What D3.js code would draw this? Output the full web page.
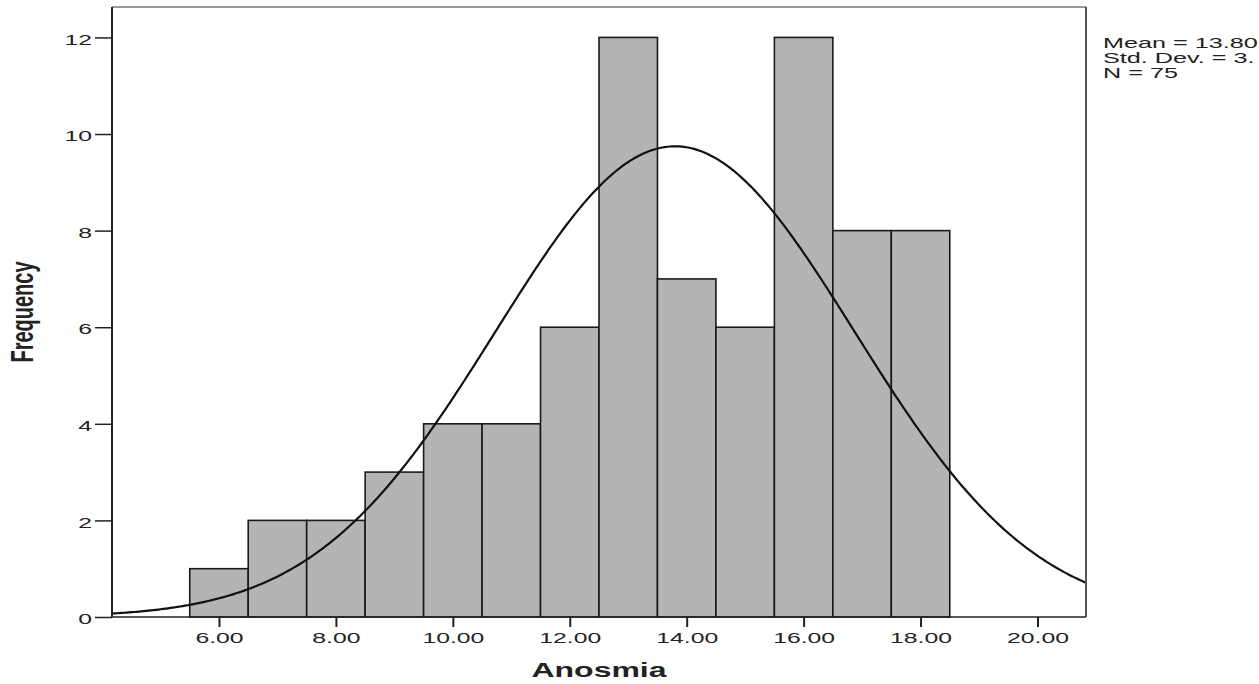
<!DOCTYPE html>
<html lang="en">
<head>
    <meta charset="UTF-8">
    <title>Anosmia histogram</title>
    <script src="https://d3js.org/d3.v7.min.js"></script>
    <style>
        body { margin: 0; background: #fff; }
        svg { display: block; overflow: hidden; }
        text { font-family: "Liberation Sans", Arial, sans-serif; fill: #222; }
    </style>
</head>
<body>
    <div id="chart"></div>
    <script>
        // histogram bins (bin width 1) and counts
        var binStarts = [5.5, 6.5, 7.5, 8.5, 9.5, 10.5, 11.5, 12.5, 13.5, 14.5, 15.5, 16.5, 17.5];
        var counts = [1, 2, 2, 3, 4, 4, 6, 12, 7, 6, 12, 8, 8];
        var xTicks = [6, 8, 10, 12, 14, 16, 18, 20];
        var yTicks = [0, 2, 4, 6, 8, 10, 12];
        // the reference crops the std. dev. line at the picture edge
        var statsLines = ["Mean = 13.80", "Std. Dev. = 3.", "N = 75"];
        var mean = 13.80, sd = 3.07, n = 75;

        var W = 1259, H = 684;
        var plotL = 112, plotR = 1086, plotT = 7, plotB = 617;
        var sx = 1.65; // the picture is stretched horizontally

        var svg = d3.select("#chart").append("svg")
            .attr("width", W)
            .attr("height", H);

        var x = d3.scaleLinear().domain([4.17, 20.83]).range([plotL, plotR]);
        var y = d3.scaleLinear().domain([0, 12.63]).range([plotB, plotT]);

        // bars
        svg.append("g")
            .selectAll("rect")
            .data(binStarts)
            .enter().append("rect")
            .attr("x", function (d) { return x(d); })
            .attr("y", function (d, i) { return y(counts[i]); })
            .attr("width", function (d) { return x(d + 1) - x(d); })
            .attr("height", function (d, i) { return y(0) - y(counts[i]); })
            .style("fill", "#b4b4b4")
            .style("stroke", "#1a1a1a")
            .style("stroke-width", 1.6);

        // normal curve from the stated mean / sd, scaled to counts
        var curvePts = d3.range(0, 401).map(function (i) {
            var v = 4.17 + (20.83 - 4.17) * i / 400;
            var z = (v - mean) / sd;
            return [v, n / (sd * Math.sqrt(2 * Math.PI)) * Math.exp(-0.5 * z * z)];
        });
        svg.append("path")
            .datum(curvePts)
            .attr("d", d3.line()
                .x(function (d) { return x(d[0]); })
                .y(function (d) { return y(d[1]); }))
            .style("fill", "none")
            .style("stroke", "#111")
            .style("stroke-width", 2.2);

        // frame: top and right
        svg.append("line")
            .attr("x1", plotL).attr("x2", plotR).attr("y1", plotT).attr("y2", plotT)
            .style("stroke", "#777").style("stroke-width", 1.5);
        svg.append("line")
            .attr("x1", plotR).attr("x2", plotR).attr("y1", plotT).attr("y2", plotB)
            .style("stroke", "#555").style("stroke-width", 2);

        // y axis
        var yAxis = svg.append("g")
            .attr("transform", "translate(" + plotL + ",0)")
            .call(d3.axisLeft(y).tickValues(yTicks).tickSize(17).tickSizeOuter(0).tickFormat(d3.format("d")));
        yAxis.select(".domain").remove();
        yAxis.selectAll(".tick line").style("stroke", "#222").style("stroke-width", 1.5);
        yAxis.selectAll(".tick text")
            .attr("x", 0)
            .attr("dy", "0.45em")
            .attr("transform", "translate(-20,0) scale(" + sx + ",1)")
            .style("font-size", "15px")
            .style("font-family", null);
        svg.append("line")
            .attr("x1", plotL).attr("x2", plotL).attr("y1", plotT).attr("y2", plotB)
            .style("stroke", "#222").style("stroke-width", 2);

        // x axis
        var xAxis = svg.append("g")
            .attr("transform", "translate(0," + plotB + ")")
            .call(d3.axisBottom(x).tickValues(xTicks).tickSize(10).tickSizeOuter(0).tickFormat(d3.format(".2f")));
        xAxis.select(".domain").remove();
        xAxis.selectAll(".tick line").style("stroke", "#222").style("stroke-width", 2);
        xAxis.selectAll(".tick text")
            .attr("y", 0)
            .attr("dy", 0)
            .attr("transform", "translate(0,26) scale(" + sx + ",1)")
            .style("font-size", "15px")
            .style("font-family", null);
        svg.append("line")
            .attr("x1", plotL).attr("x2", plotR).attr("y1", plotB).attr("y2", plotB)
            .style("stroke", "#222").style("stroke-width", 1.5);

        // axis titles
        svg.append("text")
            .attr("transform", "translate(" + (plotL + plotR) / 2 + ",677) scale(1.6,1)")
            .attr("text-anchor", "middle")
            .style("font-size", "20px")
            .style("font-weight", "bold")
            .text("Anosmia");

        svg.append("text")
            .attr("transform", "translate(33,312) rotate(-90) scale(1,1.6)")
            .attr("text-anchor", "middle")
            .style("font-size", "20px")
            .style("font-weight", "bold")
            .text("Frequency");

        // stats box
        svg.append("g")
            .selectAll("text")
            .data(statsLines)
            .enter().append("text")
            .attr("transform", function (d, i) { return "translate(1103," + (48 + i * 15) + ") scale(1.8,1)"; })
            .style("font-size", "14px")
            .text(function (d) { return d; });
    </script>
</body>
</html>
